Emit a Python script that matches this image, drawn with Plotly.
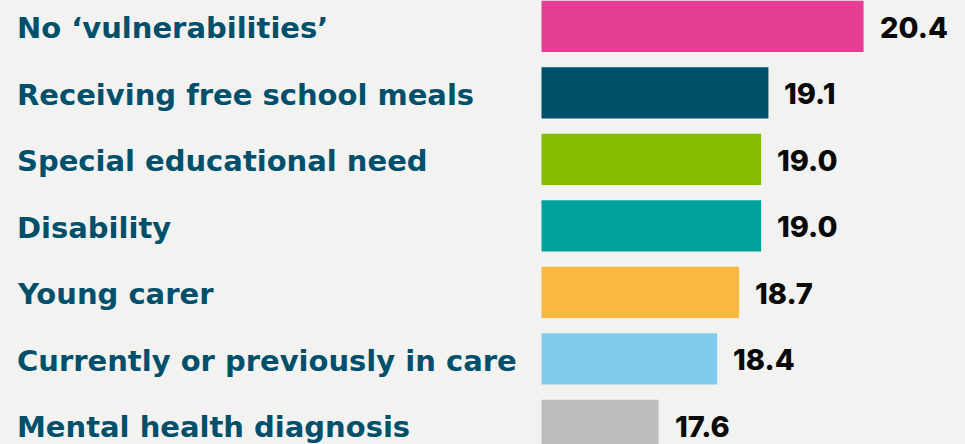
import plotly.graph_objects as go

categories = [
    "No ‘vulnerabilities’",
    "Receiving free school meals",
    "Special educational need",
    "Disability",
    "Young carer",
    "Currently or previously in care",
    "Mental health diagnosis",
]
values = [20.4, 19.1, 19.0, 19.0, 18.7, 18.4, 17.6]
value_labels = ["20.4", "19.1", "19.0", "19.0", "18.7", "18.4", "17.6"]
colors = ["#E63E95", "#00506C", "#84BD00", "#00A19A", "#F9B940", "#7ECBEC", "#BDBDBD"]

BASE = 16.0
positions = list(range(len(categories)))

fig = go.Figure()
fig.add_trace(go.Bar(
    y=positions,
    x=[v - BASE for v in values],
    base=BASE,
    orientation="h",
    marker=dict(color=colors, line=dict(width=0)),
    width=0.77,
    hoverinfo="skip",
))

label_font = dict(family="DejaVu Sans", size=29, color="#004F6B", weight=700)
value_font = dict(family="Inter", size=29, color="#0a0a0a", weight=800)

for i, (cat, v, vl) in enumerate(zip(categories, values, value_labels)):
    fig.add_annotation(
        x=15 / 965, xref="paper", y=i, yref="y",
        text=cat, showarrow=False, xanchor="left", yanchor="middle",
        font=label_font, yshift=-2,
    )
    fig.add_annotation(
        x=v, xref="x", y=i, yref="y",
        text=vl, showarrow=False, xanchor="left", yanchor="middle",
        font=value_font, xshift=14, yshift=-1,
    )

fig.update_layout(
    width=965, height=444,
    margin=dict(l=0, r=0, t=0, b=0),
    paper_bgcolor="#F2F2F1",
    plot_bgcolor="#F2F2F1",
    showlegend=False,
    xaxis=dict(range=[16 - 541.5 / 73.2, 16 + (965 - 541.5) / 73.2],
               visible=False, showgrid=False, zeroline=False),
    yaxis=dict(range=[-0.398 + 444 / 66.5, -0.398],
               visible=False, showgrid=False, zeroline=False),
)

fig.write_html("out.html")
